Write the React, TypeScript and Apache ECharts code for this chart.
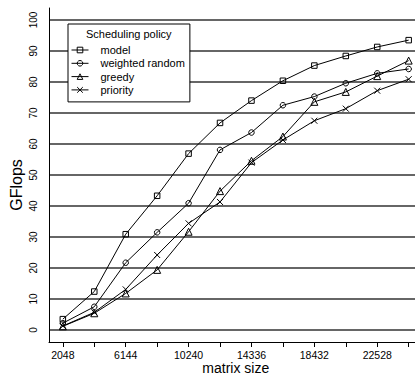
import React, { useEffect, useRef } from "react";
import * as echarts from "echarts";

const matrixSizes = [2048, 4096, 6144, 8192, 10240, 12288, 14336, 16384, 18432, 20480, 22528, 24576];
const xTickValues = [2048, 4096, 6144, 8192, 10240, 12288, 14336, 16384, 18432, 20480, 22528, 24576];
const xLabelValues = [2048, 6144, 10240, 14336, 18432, 22528];

const modelValues = [3.5, 12.4, 30.9, 43.3, 56.9, 66.8, 74.0, 80.4, 85.3, 88.4, 91.3, 93.5];
const weightedRandomValues = [2.2, 7.5, 21.7, 31.5, 40.9, 58.1, 63.7, 72.5, 75.3, 79.6, 82.8, 84.2];
const greedyValues = [1.2, 5.4, 11.8, 19.4, 31.7, 44.8, 54.6, 62.4, 73.6, 76.8, 81.9, 86.9];
const priorityValues = [1.3, 5.7, 13.1, 24.2, 34.4, 41.3, 54.0, 61.3, 67.5, 71.4, 77.2, 80.9];

const seriesNames = ["model", "weighted random", "greedy", "priority"];
const seriesSymbols = ["rect", "circle", "triangle", "path://M0,0L10,10M10,0L0,10"];
const seriesSizes = [5.5, 5.5, 7, 6];
const seriesValues = [modelValues, weightedRandomValues, greedyValues, priorityValues];

const FONT = "'Liberation Sans', Arial, Helvetica, sans-serif";

export default function App() {
  const ref = useRef<HTMLDivElement>(null);
  useEffect(() => {
    if (!ref.current) return;
    const chart = echarts.init(ref.current, null, { renderer: "svg" });
    const xMin = 1147;
    const xMax = 25477;
    const option: any = {
      animation: false,
      backgroundColor: "#fff",
      textStyle: { fontFamily: FONT },
      grid: [
        { left: 49, top: 8, right: -7.5, height: 334, containLabel: false, outerBoundsMode: "none" },
        { left: 49, top: 20, right: -7.5, height: 310, containLabel: false, outerBoundsMode: "none" },
      ],
      xAxis: [
        {
          type: "value",
          gridIndex: 0,
          min: xMin,
          max: xMax,
          axisLine: { show: true, onZero: false, lineStyle: { color: "#000", width: 1 } },
          axisTick: { show: true, length: 5, customValues: xTickValues, lineStyle: { color: "#000" } },
          axisLabel: {
            show: true,
            customValues: xLabelValues,
            formatter: (v: number) => String(v),
            color: "#000",
            fontSize: 10.5,
            lineHeight: 11,
            fontFamily: FONT,
            margin: 7,
          },
          splitLine: { show: false },
          name: "matrix size",
          nameLocation: "middle",
          nameGap: 19,
          nameMoveOverlap: false,
          nameTextStyle: { fontSize: 14, lineHeight: 14, color: "#000", fontFamily: FONT },
        },
        {
          type: "value",
          gridIndex: 1,
          min: xMin,
          max: xMax,
          show: false,
        },
      ],
      yAxis: [
        {
          type: "value",
          gridIndex: 0,
          min: -3.87,
          max: 103.87,
          axisLine: { show: true, lineStyle: { color: "#000", width: 1 } },
          axisTick: { show: false },
          axisLabel: { show: false },
          splitLine: { show: false },
        },
        {
          type: "value",
          gridIndex: 1,
          min: 0,
          max: 100,
          interval: 10,
          axisLine: { show: false },
          axisTick: { show: false },
          axisLabel: {
            show: true,
            rotate: 90,
            color: "#000",
            fontSize: 10,
            fontFamily: "'Liberation Sans Narrow', 'Liberation Sans', Arial, sans-serif",
            margin: 11,
          },
          splitLine: { show: true, lineStyle: { color: "#666", width: 1.8 } },
        },
      ],
      legend: {
        show: true,
        orient: "vertical",
        left: 68,
        top: 24,
        padding: [20, 5, 6, 3],
        itemWidth: 17,
        itemHeight: 7,
        itemGap: 1.3,
        backgroundColor: "#fff",
        borderColor: "#000",
        borderWidth: 1,
        borderRadius: 0,
        selectedMode: false,
        data: seriesNames,
        itemStyle: { color: "rgba(0,0,0,0)", borderColor: "#000", borderWidth: 1 },
        lineStyle: { color: "#000", width: 1 },
        textStyle: {
          fontSize: 11,
          lineHeight: 12,
          color: "#000",
          fontFamily: FONT,
          padding: [0, 0, 0, 7],
        },
      },
      graphic: [
        {
          type: "text",
          z: 100,
          left: 86,
          top: 28,
          style: {
            text: "Scheduling policy",
            fontSize: 11,
            fontFamily: FONT,
            fill: "#000",
          },
        },
        {
          type: "text",
          z: 100,
          x: 16,
          y: 185,
          rotation: Math.PI / 2,
          style: {
            text: "GFlops",
            fontSize: 16,
            fontFamily: FONT,
            fill: "#000",
            textAlign: "center",
            textVerticalAlign: "middle",
          },
        },
      ],
      series: seriesNames.map((name, i) => ({
        name,
        type: "line",
        xAxisIndex: 0,
        yAxisIndex: 0,
        data: matrixSizes.map((x, j) => [x, seriesValues[i][j]]),
        symbol: seriesSymbols[i],
        symbolSize: seriesSizes[i],
        showSymbol: true,
        clip: false,
        lineStyle: { color: "#000", width: 1 },
        itemStyle: { color: "rgba(0,0,0,0)", borderColor: "#000", borderWidth: 1 },
        emphasis: { disabled: true },
        z: 3,
      })),
    };
    chart.setOption(option);
    return () => chart.dispose();
  }, []);
  return (
    <div
      ref={ref}
      style={{ position: "fixed", left: 0, top: 0, width: 415, height: 377, overflow: "hidden" }}
    />
  );
}
